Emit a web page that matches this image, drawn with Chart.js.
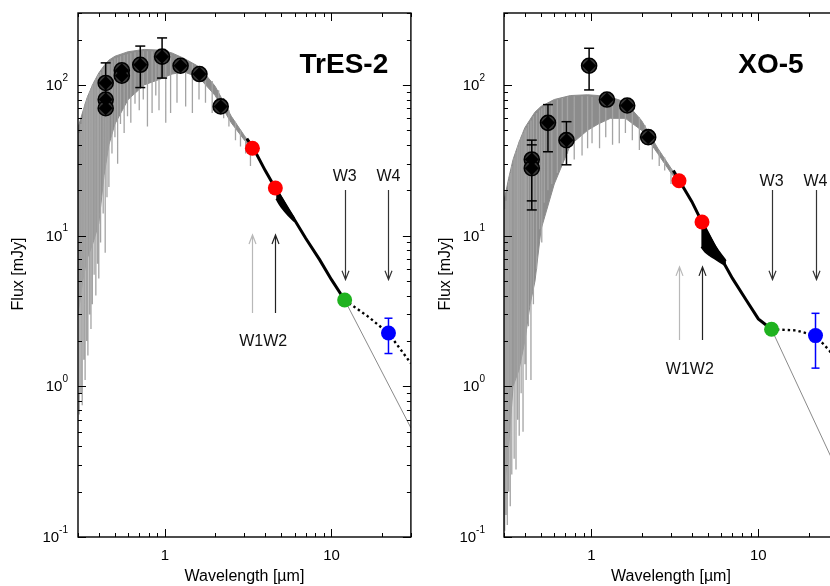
<!DOCTYPE html>
<html>
<head>
<meta charset="utf-8">
<script src="https://cdn.jsdelivr.net/npm/chart.js@4.4.1/dist/chart.umd.min.js"></script>
<style>
    html, body { margin: 0; padding: 0; background: #fff; overflow: hidden; }
    #wrap { position: relative; width: 830px; height: 586px; overflow: hidden; }
    #tresChart { position: absolute; left: 0; top: 0; }
    #xoChart { position: absolute; left: 420px; top: 0; }
</style>
</head>
<body>
<div id="wrap">
    <canvas id="tresChart" width="420" height="586"></canvas>
    <canvas id="xoChart" width="430" height="586"></canvas>
</div>
<script>
// axes
const xMin = 0.3, xMax = 30;
const yMin = 0.1, yMax = 300;
const xTickLabels = [1, 10];
const yTickValues = [0.1, 1, 10, 100];
const yTickExp = ['-1', '0', '1', '2'];

// WISE bands
const wiseWave = [3.35, 4.6, 12, 22];
const arrowColors = ['#b8b8b8', '#222', '#333', '#333'];
const w1w2LabelWave = 3.89;

// ---- TrES-2 ----
const tresBandWave = [0.30, 0.32, 0.34, 0.37, 0.40, 0.43, 0.46, 0.50, 0.60, 0.75, 0.95, 1.10, 1.30, 1.60, 2.00, 2.50, 3.00, 3.40];
const tresBandTop  = [52, 66, 82, 102, 120, 134, 146, 155, 166, 172, 170, 163, 150, 132, 98, 62, 46, 38];
const tresBandLow  = [3, 5, 7, 9, 12, 25, 40, 55, 80, 100, 110, 118, 122, 112, 85, 56, 43, 36];

const tresLineWave = [0.305, 0.312, 0.318, 0.325, 0.331, 0.338, 0.344, 0.352, 0.359, 0.366, 0.375, 0.384, 0.393, 0.400, 0.410, 0.425, 0.437, 0.448, 0.46, 0.48, 0.50, 0.519, 0.54, 0.568, 0.595, 0.623, 0.66, 0.70, 0.74, 0.784, 0.836, 0.88, 0.92, 1.01, 1.08, 1.18, 1.33, 1.46, 1.60, 1.75, 1.92, 2.10, 2.25, 2.42, 2.65, 2.84, 3.05, 3.26];
const tresLineTop  = [48, 55, 60, 70, 75, 80, 85, 90, 95, 100, 105, 110, 115, 118, 122, 128, 132, 138, 140, 145, 150, 152, 155, 158, 160, 162, 165, 166, 167, 167, 167, 166, 165, 162, 158, 152, 145, 138, 128, 118, 106, 92, 82, 68, 57, 50, 44, 40];
const tresLineLow  = [0.65, 0.9, 0.75, 1.5, 1.1, 2.0, 1.6, 3.0, 2.4, 3.5, 5.5, 4.0, 6.5, 5.2, 9, 14, 7.7, 18, 21, 35, 45, 30, 55, 48, 62, 56, 75, 68, 80, 53, 65, 85, 68, 56, 65, 76, 72, 65, 80, 76, 65, 70, 60, 53, 43, 39, 35, 29];

const tresSpecWave = [3.1, 3.4, 4.0, 4.6, 5.5, 7.0, 8.5, 10, 12];
const tresSpecFlux = [44, 38, 27, 20.6, 14.9, 9.6, 6.9, 5.1, 3.74];
const tresFatWave = [4.65, 5.0, 5.5, 6.0];
const tresFatTop  = [20.5, 18.0, 15.0, 13.0];
const tresFatLow  = [17.5, 15.4, 13.6, 12.4];

const tresModelWave = [12, 30];
const tresModelFlux = [3.74, 0.53];
const tresExcessWave = [12, 16.6, 22, 30];
const tresExcessFlux = [3.74, 2.9, 2.25, 1.42];

const tresPhotWave = [0.44, 0.44, 0.44, 0.55, 0.55, 0.71, 0.96, 1.24, 1.61, 2.16];
const tresPhotFlux = [103, 80, 70, 125, 115, 136, 154, 134, 118, 72];
const tresPhotLow  = [72, null, null, null, null, 96, 111, null, null, null];
const tresPhotHigh = [140, null, null, null, null, 181, 205, null, null, null];

const tresWiseFlux = [38, 20.7, 3.74, 2.26];
const tresW4Err = [1.65, 2.83];
const tresArrowFrom = [3.07, 3.07, 20.1, 20.1];
const tresArrowTo   = [10.1, 10.1, 5.1, 5.1];
const tresW34LabelFlux = 24.6;
const tresW12LabelFlux = 1.98;

// ---- XO-5 ----
const xoBandWave = [0.30, 0.32, 0.34, 0.37, 0.40, 0.43, 0.46, 0.50, 0.60, 0.75, 0.95, 1.10, 1.30, 1.60, 2.00, 2.50, 3.00, 3.40];
const xoBandTop  = [17, 24, 32, 42, 52, 59, 66, 72, 80, 85, 86, 85, 83, 77, 58, 38, 28, 23];
const xoBandLow  = [0.2, 0.4, 1.0, 1.3, 2.0, 3.5, 5, 11, 22, 40, 50, 55, 60, 60, 50, 35, 26, 22];

const xoLineWave = [0.303, 0.308, 0.314, 0.320, 0.327, 0.334, 0.345, 0.354, 0.362, 0.370, 0.38, 0.39, 0.40, 0.407, 0.42, 0.435, 0.45, 0.47, 0.49, 0.505, 0.523, 0.55, 0.58, 0.626, 0.67, 0.72, 0.79, 0.88, 0.95, 1.01, 1.12, 1.22, 1.34, 1.47, 1.60, 1.76, 1.94, 2.10, 2.32, 2.55, 2.75, 3.0];
const xoLineTop  = [15, 17, 20, 23, 26, 29, 33, 36, 39, 42, 45, 48, 50, 52, 55, 58, 62, 65, 68, 70, 72, 74, 77, 80, 82, 83, 84, 84, 84, 83, 82, 81, 79, 77, 74, 68, 61, 54, 46, 37, 33, 28];
const xoLineLow  = [0.11, 0.14, 0.12, 0.2, 0.16, 0.26, 0.33, 0.28, 0.6, 0.47, 0.9, 0.5, 1.4, 1.1, 2.5, 1.1, 3.5, 6, 11, 9, 16.5, 20, 22, 26, 30, 35, 32, 34, 38, 41, 38, 45, 40, 41, 48, 43, 37, 40, 32, 29, 27, 22];

const xoSpecWave = [3.1, 3.37, 4.0, 4.6, 5.5, 7.0, 8.44, 10, 12];
const xoSpecFlux = [27, 23.1, 16.8, 12.3, 8.4, 5.2, 3.75, 2.8, 2.39];
const xoFatWave = [4.55, 4.8, 5.1, 5.5, 5.85, 6.4];
const xoFatTop  = [12.4, 11.2, 10.0, 8.6, 7.8, 6.8];
const xoFatLow  = [8.4, 7.8, 7.4, 7.0, 6.7, 6.3];

const xoModelWave = [12, 30];
const xoModelFlux = [2.39, 0.27];
const xoExcessWave = [12, 16.8, 22, 26.6, 30];
const xoExcessFlux = [2.39, 2.35, 2.17, 1.73, 1.42];

const xoPhotWave = [0.44, 0.44, 0.55, 0.71, 0.97, 1.24, 1.64, 2.19];
const xoPhotFlux = [32, 28, 56, 43, 134, 80, 73, 45];
const xoPhotLow  = [14.8, 17, 36, 29.5, 92.6, null, null, null];
const xoPhotHigh = [43, 40, 74, 57, 175, null, null, null];

const xoWiseFlux = [23.1, 12.3, 2.39, 2.17];
const xoW4Err = [1.32, 3.05];
const xoArrowFrom = [2.03, 2.03, 20.1, 20.1];
const xoArrowTo   = [6.2, 6.2, 5.1, 5.1];
const xoW34LabelFlux = 22.9;
const xoW12LabelFlux = 1.3;

const FONT = '"Liberation Sans", Arial, Helvetica, sans-serif';

document.addEventListener('DOMContentLoaded', function() {

    const pts = (xs, ys) => xs.map((x, i) => ({ x: x, y: ys[i] }));

    const segments = (xs, tops, lows) => {
        const out = [];
        xs.forEach((x, i) => {
            out.push({ x: x, y: tops[i] }, { x: x, y: lows[i] }, { x: x, y: null });
        });
        return out;
    };

    const errSegments = (xs, lows, highs) => {
        const out = [];
        xs.forEach((x, i) => {
            if (lows[i] == null) return;
            out.push({ x: x, y: lows[i] }, { x: x, y: highs[i] }, { x: x, y: null });
        });
        return out;
    };

    const decorPlugin = {
        id: 'sedDecor',
        afterDraw(chart, args, opts) {
            const ctx = chart.ctx;
            const xs = chart.scales.x, ys = chart.scales.y;
            const a = chart.chartArea;
            ctx.save();

            // frame
            ctx.strokeStyle = '#000';
            ctx.lineWidth = 1.4;
            ctx.strokeRect(a.left, a.top, a.right - a.left, a.bottom - a.top);

            // inward ticks on all four sides
            ctx.lineWidth = 1;
            ctx.beginPath();
            [0.1, 1, 10].forEach(d => {
                for (let m = 1; m <= 9; m++) {
                    const v = d * m;
                    if (v < xMin - 1e-9 || v > xMax + 1e-9) continue;
                    const px = Math.round(xs.getPixelForValue(v)) + 0.5;
                    const len = m === 1 ? 8 : 4;
                    ctx.moveTo(px, a.bottom); ctx.lineTo(px, a.bottom - len);
                    ctx.moveTo(px, a.top); ctx.lineTo(px, a.top + len);
                }
            });
            [0.1, 1, 10, 100].forEach(d => {
                for (let m = 1; m <= 9; m++) {
                    const v = d * m;
                    if (v < yMin - 1e-9 || v > yMax + 1e-9) continue;
                    const py = Math.round(ys.getPixelForValue(v)) + 0.5;
                    const len = m === 1 ? 8 : 4;
                    ctx.moveTo(a.left, py); ctx.lineTo(a.left + len, py);
                    ctx.moveTo(a.right, py); ctx.lineTo(a.right - len, py);
                }
            });
            ctx.stroke();

            // tick labels
            ctx.fillStyle = '#000';
            ctx.textBaseline = 'middle';
            ctx.textAlign = 'center';
            ctx.font = '15px ' + FONT;
            xTickLabels.forEach(v => {
                ctx.fillText(String(v), xs.getPixelForValue(v), a.bottom + 19);
            });
            const labelRight = a.left - opts.yLabelGap;
            yTickValues.forEach((v, i) => {
                const py = ys.getPixelForValue(v);
                ctx.font = '10px ' + FONT;
                const ew = ctx.measureText(yTickExp[i]).width;
                ctx.textAlign = 'left';
                ctx.fillText(yTickExp[i], labelRight - ew, py - 7);
                ctx.font = '15px ' + FONT;
                ctx.textAlign = 'right';
                ctx.fillText('10', labelRight - ew, py + 1);
            });

            // axis titles
            ctx.font = '16px ' + FONT;
            ctx.textAlign = 'center';
            ctx.fillText('Wavelength [\u00b5m]', (a.left + a.right) / 2, a.bottom + 40);
            ctx.save();
            ctx.translate(opts.yTitleX, 274);
            ctx.rotate(-Math.PI / 2);
            ctx.fillText('Flux [mJy]', 0, 0);
            ctx.restore();

            // object name
            ctx.font = 'bold 28px ' + FONT;
            ctx.fillText(opts.title, a.right - 67, a.top + 52);

            // WISE arrows
            wiseWave.forEach((w, i) => {
                const px = Math.round(xs.getPixelForValue(w)) + 0.5;
                const y0 = ys.getPixelForValue(opts.arrowFrom[i]);
                const y1 = ys.getPixelForValue(opts.arrowTo[i]);
                const dir = y1 > y0 ? 1 : -1;
                ctx.strokeStyle = arrowColors[i];
                ctx.lineWidth = 1.2;
                ctx.beginPath();
                ctx.moveTo(px, y0); ctx.lineTo(px, y1);
                ctx.moveTo(px - 3.5, y1 - dir * 9); ctx.lineTo(px, y1); ctx.lineTo(px + 3.5, y1 - dir * 9);
                ctx.stroke();
            });

            // band labels
            ctx.fillStyle = '#111';
            ctx.font = '16px ' + FONT;
            ctx.textAlign = 'center';
            ctx.fillText('W3', xs.getPixelForValue(wiseWave[2]), ys.getPixelForValue(opts.w34Flux));
            ctx.fillText('W4', xs.getPixelForValue(wiseWave[3]), ys.getPixelForValue(opts.w34Flux));
            ctx.fillText('W1W2', xs.getPixelForValue(w1w2LabelWave), ys.getPixelForValue(opts.w12Flux));

            ctx.restore();
        }
    };

    const makePanel = (id, p) => {
        const ctx = document.getElementById(id).getContext('2d');
        return new Chart(ctx, {
            type: 'line',
            data: {
                datasets: [
                    { // 0 black error bars
                        data: errSegments(p.photWave, p.photLow, p.photHigh),
                        borderColor: '#000', borderWidth: 1.5,
                        pointStyle: 'line', pointRadius: 5, pointBorderWidth: 1.5, pointBorderColor: '#000',
                        spanGaps: false, order: 0
                    },
                    { // 1 W4 error bar
                        data: errSegments([wiseWave[3]], [p.w4Err[0]], [p.w4Err[1]]),
                        borderColor: '#0000ff', borderWidth: 1.5,
                        pointStyle: 'line', pointRadius: 4, pointBorderWidth: 1.5, pointBorderColor: '#0000ff',
                        spanGaps: false, order: 1
                    },
                    { // 2 WISE points
                        data: pts(wiseWave, p.wiseFlux),
                        showLine: false,
                        pointRadius: 7.5, pointBorderWidth: 0,
                        pointBackgroundColor: ['#ff0000', '#ff0000', '#1fb21f', '#0000ff'],
                        order: 2
                    },
                    { // 3 diamonds
                        data: pts(p.photWave, p.photFlux),
                        showLine: false, pointStyle: 'rectRot',
                        pointRadius: 7, pointBorderWidth: 0, pointBackgroundColor: '#000',
                        order: 3
                    },
                    { // 4 circles
                        data: pts(p.photWave, p.photFlux),
                        showLine: false, pointStyle: 'circle',
                        pointRadius: 7.5, pointBorderWidth: 1.6,
                        pointBackgroundColor: '#383838', pointBorderColor: '#000',
                        order: 4
                    },
                    { // 5 dotted excess
                        data: pts(p.excessWave, p.excessFlux),
                        borderColor: '#000', borderWidth: 2.4, borderDash: [2.4, 3],
                        pointRadius: 0, order: 5
                    },
                    { // 6 thin model tail
                        data: pts(p.modelWave, p.modelFlux),
                        borderColor: '#8a8a8a', borderWidth: 1,
                        pointRadius: 0, order: 6
                    },
                    { // 7 fat black part (top)
                        data: pts(p.fatWave, p.fatTop),
                        borderColor: '#000', borderWidth: 1.5, backgroundColor: '#000',
                        fill: 8, pointRadius: 0, tension: 0.4, order: 7
                    },
                    { // 8 fat black part (bottom)
                        data: pts(p.fatWave, p.fatLow),
                        borderColor: '#000', borderWidth: 1.5,
                        pointRadius: 0, tension: 0.4, order: 8
                    },
                    { // 9 black spectrum
                        data: pts(p.specWave, p.specFlux),
                        borderColor: '#000', borderWidth: 3,
                        pointRadius: 0, order: 9
                    },
                    { // 10 absorption lines
                        data: segments(p.lineWave, p.lineTop, p.lineLow),
                        borderColor: '#a4a4a4', borderWidth: 1.3,
                        pointRadius: 0, spanGaps: false, order: 10
                    },
                    { // 11 gray spectrum band (top)
                        data: pts(p.bandWave, p.bandTop),
                        borderColor: '#8c8c8c', borderWidth: 1, backgroundColor: '#8c8c8c',
                        fill: 12, pointRadius: 0, order: 11
                    },
                    { // 12 gray spectrum band (bottom)
                        data: pts(p.bandWave, p.bandLow),
                        borderColor: '#8c8c8c', borderWidth: 1,
                        pointRadius: 0, order: 12
                    }
                ]
            },
            options: {
                responsive: false,
                animation: false,
                devicePixelRatio: 1,
                layout: { padding: { top: 13, right: p.padRight, left: 0, bottom: 0 } },
                plugins: {
                    legend: { display: false },
                    tooltip: { enabled: false },
                    sedDecor: p.decor
                },
                elements: { line: { tension: 0 } },
                scales: {
                    x: {
                        type: 'logarithmic', min: xMin, max: xMax,
                        ticks: { display: false }, grid: { display: false }, border: { display: false },
                        afterFit: s => { s.height = 49; }
                    },
                    y: {
                        type: 'logarithmic', min: yMin, max: yMax,
                        ticks: { display: false }, grid: { display: false }, border: { display: false },
                        afterFit: s => { s.width = p.yWidth; }
                    }
                }
            },
            plugins: [decorPlugin]
        });
    };

    makePanel('tresChart', {
        bandWave: tresBandWave, bandTop: tresBandTop, bandLow: tresBandLow,
        lineWave: tresLineWave, lineTop: tresLineTop, lineLow: tresLineLow,
        specWave: tresSpecWave, specFlux: tresSpecFlux,
        fatWave: tresFatWave, fatTop: tresFatTop, fatLow: tresFatLow,
        modelWave: tresModelWave, modelFlux: tresModelFlux,
        excessWave: tresExcessWave, excessFlux: tresExcessFlux,
        photWave: tresPhotWave, photFlux: tresPhotFlux, photLow: tresPhotLow, photHigh: tresPhotHigh,
        wiseFlux: tresWiseFlux, w4Err: tresW4Err,
        yWidth: 78, padRight: 8,
        decor: {
            title: 'TrES-2', yLabelGap: 10, yTitleX: 19,
            arrowFrom: tresArrowFrom, arrowTo: tresArrowTo,
            w34Flux: tresW34LabelFlux, w12Flux: tresW12LabelFlux
        }
    });

    makePanel('xoChart', {
        bandWave: xoBandWave, bandTop: xoBandTop, bandLow: xoBandLow,
        lineWave: xoLineWave, lineTop: xoLineTop, lineLow: xoLineLow,
        specWave: xoSpecWave, specFlux: xoSpecFlux,
        fatWave: xoFatWave, fatTop: xoFatTop, fatLow: xoFatLow,
        modelWave: xoModelWave, modelFlux: xoModelFlux,
        excessWave: xoExcessWave, excessFlux: xoExcessFlux,
        photWave: xoPhotWave, photFlux: xoPhotFlux, photLow: xoPhotLow, photHigh: xoPhotHigh,
        wiseFlux: xoWiseFlux, w4Err: xoW4Err,
        yWidth: 84, padRight: 12,
        decor: {
            title: 'XO-5', yLabelGap: 19, yTitleX: 26,
            arrowFrom: xoArrowFrom, arrowTo: xoArrowTo,
            w34Flux: xoW34LabelFlux, w12Flux: xoW12LabelFlux
        }
    });
});
</script>
</body>
</html>
